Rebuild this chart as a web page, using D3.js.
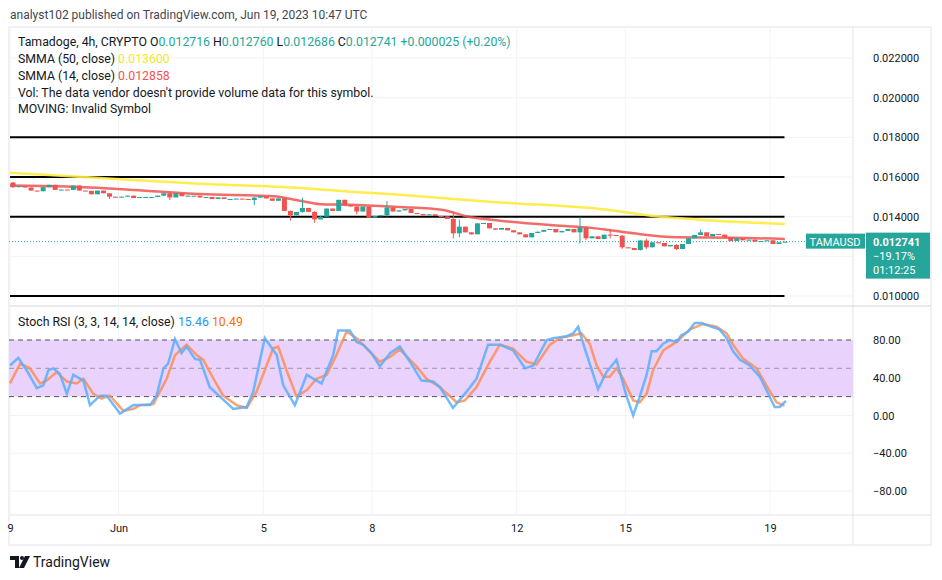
<!DOCTYPE html>
<html><head><meta charset="utf-8">
<script src="https://cdn.jsdelivr.net/npm/d3@7"></script>
<style>
body{margin:0;background:#fff;font-family:"Trebuchet MS",Roboto,"DejaVu Sans",sans-serif;}
text{font-family:Roboto,"DejaVu Sans",sans-serif;}
</style></head><body>
<svg id="c" width="942" height="580"></svg>
<script>
// candle closes, 4h bars from May 29 00:00 (open = previous close)
var closes = [
 0.015487,0.015538,0.01547,0.015316,0.015282,0.015487,0.015607,0.01535,0.015367,0.01535,
 0.015572,0.015316,0.0153,0.015128,0.015316,0.01518,0.015008,0.01497,0.015008,0.01506,
 0.01494,0.01499,0.01499,0.01499,0.01506,0.01518,0.01497,0.01518,0.01503,0.01506,
 0.01506,0.01497,0.01499,0.01489,0.01497,0.01489,0.01489,0.01491,0.01489,0.01484,
 0.01496,0.01503,0.01492,0.0148,0.01492,0.01429,0.01407,0.01424,0.01444,0.01424,
 0.01386,0.014,0.01441,0.01429,0.01485,0.01458,0.01451,0.01426,0.01451,0.01395,
 0.01403,0.01407,0.01446,0.01426,0.01432,0.014386,0.014185,0.014134,0.014067,0.014118,
 0.014034,0.014017,0.013882,0.01316,0.013496,0.01321,0.01311,0.013664,0.013681,0.013412,
 0.013345,0.013429,0.013311,0.01321,0.01311,0.012958,0.013177,0.01324,0.01333,0.01338,
 0.01321,0.01328,0.01338,0.01321,0.013446,0.012908,0.013009,0.012874,0.013093,0.013076,
 0.013042,0.012454,0.01242,0.01232,0.0128,0.012454,0.012706,0.012673,0.012505,0.012572,
 0.01237,0.012622,0.012908,0.013076,0.01321,0.013009,0.013126,0.013093,0.012958,0.012774,
 0.012908,0.012807,0.01284,0.01274,0.012774,0.012807,0.012622,0.012706,0.012741
];
var firstOpen = 0.01572;
// [bar, high, low] for visible wicks
var wicks = [
 [0,0.01575,0.01545],[16,0.01512,0.01489],[26,0.01522,0.01484],[40,0.01498,0.01458],
 [46,0.01431,0.01381],[48,0.01495,0.01420],[50,0.01428,0.01369],[51,0.01405,0.01392],
 [57,0.01455,0.01412],[62,0.01478,0.01400],[73,0.01422,0.01291],[74,0.01385,0.01296],
 [94,0.01397,0.01266],[95,0.01350,0.01282],[99,0.01338,0.01290],[101,0.01306,0.01238],
 [104,0.01282,0.01229],[105,0.01290,0.01236],[110,0.01262,0.01232],[114,0.01335,0.01318]
];
// smoothed moving averages, [day, value]
var smma14 = [[0,0.01557],[1.57,0.01552],[3.41,0.01535],[5.25,0.01514],[7.28,0.01503],[8.01,0.0148],
 [8.57,0.01463],[9.39,0.0146],[10.77,0.01449],[11.97,0.01434],[12.61,0.01402],[13.54,0.0138],
 [14.92,0.01358],[15.93,0.01346],[16.48,0.01334],[17.22,0.01316],[18.42,0.01296],[19.98,0.01294],[21.41,0.01287]];
var smma50 = [[0,0.01622],[2.49,0.01595],[5.25,0.01566],[7.55,0.01549],[9.39,0.01526],[10.77,0.01510],
 [13.54,0.01472],[16.3,0.01439],[17.86,0.01402],[19.06,0.01385],[21.41,0.01363]];
var levels = [0.018, 0.016, 0.014, 0.010];
var priceGrid = [0.010, 0.012, 0.014, 0.016, 0.018, 0.020, 0.022];
var priceLabels = [0.010, 0.014, 0.016, 0.018, 0.020, 0.022]; // 0.012 sits under the price tag
// stoch RSI K and D, [day, value]
var stochK = [[0,53],[.23,61],[.46,48],[.74,29],[.92,32],[1.06,48],[1.2,50],[1.38,44],[1.57,23],[1.75,43],
 [2.03,37],[2.21,11],[2.49,21],[2.67,21],[3.04,2],[3.41,11],[3.87,11],[4.05,21],[4.24,50],[4.37,55],
 [4.56,81],[4.74,66],[4.88,73],[5.11,60],[5.25,59],[5.52,30],[5.8,20],[6.17,7],[6.54,9],[6.72,25],
 [7.04,82],[7.37,64],[7.55,32],[7.87,11],[8.2,43],[8.47,37],[8.61,34],[8.93,64],[9.07,90],[9.39,90],
 [9.58,78],[9.76,75],[9.99,66],[10.22,52],[10.5,66],[10.77,73],[11.05,57],[11.37,37],[11.69,36],[11.88,30],
 [12.24,8],[12.61,25],[12.89,39],[13.21,75],[13.54,75],[13.9,69],[14.23,50],[14.46,53],[14.83,80],[15.01,82],
 [15.38,84],[15.56,87],[15.7,94],[15.88,71],[16.25,28],[16.48,46],[16.76,59],[17.03,21],[17.22,0],[17.4,20],
 [17.59,43],[17.73,68],[17.86,68],[18.05,76],[18.23,80],[18.42,78],[18.55,85],[18.74,89],[18.92,98],[19.11,98],
 [19.24,96],[19.61,91],[19.8,82],[19.98,68],[20.17,59],[20.44,53],[20.72,41],[20.9,27],[21.13,9],[21.27,9],[21.44,15.46]];
var stochD = [[0,34],[.28,55],[.55,50],[.83,34],[1.01,37],[1.29,46],[1.57,36],[1.84,34],[2.03,39],[2.3,23],
 [2.53,18],[2.76,21],[3.13,5],[3.41,7],[3.59,11],[3.96,12],[4.33,39],[4.56,64],[4.88,75],[5.16,64],
 [5.34,59],[5.62,39],[5.89,21],[6.26,11],[6.54,8],[6.81,25],[7.09,53],[7.27,71],[7.41,73],[7.64,48],
 [7.92,20],[8.2,27],[8.47,39],[8.75,43],[9.02,64],[9.3,89],[9.58,82],[9.85,71],[10.22,57],[10.5,62],
 [10.77,70],[11.23,52],[11.51,39],[11.88,30],[12.34,14],[12.57,16],[12.89,30],[13.26,57],[13.54,75],[13.9,71],
 [14.27,57],[14.55,54],[14.92,75],[15.19,82],[15.56,85],[15.79,87],[16.02,76],[16.21,53],[16.39,41],[16.57,41],
 [16.76,50],[16.94,39],[17.22,16],[17.4,14],[17.59,23],[17.77,48],[18.05,69],[18.42,78],[18.78,91],[19.15,97],
 [19.52,94],[19.8,87],[19.98,75],[20.26,60],[20.63,50],[20.9,32],[21.18,14],[21.4,10.49]];
var stochTicks = [-80, -40, 0, 40, 80];
var dateTicks = [[0,'9'],[3,'Jun'],[7,'5'],[10,'8'],[14,'12'],[17,'15'],[21,'19']];

var svg = d3.select('#c');
var left = 9, right = 853, axisR = 931;
var x = d3.scaleLinear().domain([0, 21]).range([10, 770]);
var yP = d3.scaleLinear().domain([0.010, 0.022]).range([296, 58]);
var yS = d3.scaleLinear().domain([-80, 80]).range([491, 340]);
var barDay = 1 / 6;

// header
svg.append('text').attr('x', 10).attr('y', 19).attr('font-size', 12).attr('fill', '#434651')
	.text('analyst102 published on TradingView.com, Jun 19, 2023 10:47 UTC');

// frame
svg.append('rect').attr('x', left).attr('y', 27).attr('width', axisR - left).attr('height', 518)
	.attr('fill', 'none').attr('stroke', '#e0e3eb');
svg.append('line').attr('x1', right).attr('x2', right).attr('y1', 27).attr('y2', 545).attr('stroke', '#e0e3eb');
svg.append('line').attr('x1', left).attr('x2', axisR).attr('y1', 306).attr('y2', 306).attr('stroke', '#d1d4dc');
svg.append('line').attr('x1', left).attr('x2', axisR).attr('y1', 515).attr('y2', 515).attr('stroke', '#e0e3eb');

// grid
var grid = svg.append('g').attr('stroke', '#f0f3fa');
dateTicks.forEach(function(d) {
	grid.append('line').attr('x1', x(d[0])).attr('x2', x(d[0])).attr('y1', 27).attr('y2', 515);
});
priceGrid.forEach(function(d) {
	grid.append('line').attr('x1', left).attr('x2', right).attr('y1', yP(d)).attr('y2', yP(d));
});
stochTicks.forEach(function(d) {
	grid.append('line').attr('x1', left).attr('x2', right).attr('y1', yS(d)).attr('y2', yS(d));
});

// price axis
svg.append('g').attr('transform', 'translate(' + right + ',0)')
	.call(d3.axisRight(yP).tickValues(priceLabels).tickFormat(d3.format('.6f')).tickSize(0).tickPadding(20))
	.call(function(g) { g.select('.domain').remove(); })
	.selectAll('text').attr('font-size', 11).attr('fill', '#131722');
svg.append('g').attr('transform', 'translate(' + right + ',0)')
	.call(d3.axisRight(yS).tickValues(stochTicks).tickFormat(d3.format('.2f')).tickSize(0).tickPadding(20))
	.call(function(g) { g.select('.domain').remove(); })
	.selectAll('text').attr('font-size', 11).attr('fill', '#131722');

// date axis
svg.append('g').attr('transform', 'translate(0,515)')
	.call(d3.axisBottom(x).tickValues(dateTicks.map(function(d) { return d[0]; }))
		.tickFormat(function(v) { return dateTicks.find(function(d) { return d[0] === v; })[1]; })
		.tickSize(0).tickPadding(9))
	.call(function(g) { g.select('.domain').remove(); })
	.selectAll('text').attr('font-size', 11).attr('fill', '#131722');

// horizontal levels
levels.forEach(function(l) {
	svg.append('line').attr('x1', x(0)).attr('x2', x(21.4)).attr('y1', yP(l)).attr('y2', yP(l))
		.attr('stroke', '#000').attr('stroke-width', 2);
});

// moving averages
var line = d3.line().x(function(d) { return x(d[0]); }).y(function(d) { return yP(d[1]); }).curve(d3.curveMonotoneX);
svg.append('path').attr('d', line(smma50)).attr('fill', 'none').attr('stroke', '#ffeb3b').attr('stroke-width', 2.5).attr('stroke-opacity', 0.9);
svg.append('path').attr('d', line(smma14)).attr('fill', 'none').attr('stroke', '#f05350').attr('stroke-width', 2.5).attr('stroke-opacity', 0.85);

// candles
var bars = closes.map(function(c, i) {
	var o = i === 0 ? firstOpen : closes[i - 1];
	var w = wicks.find(function(d) { return d[0] === i; });
	return { i: i, o: o, c: c, h: w ? w[1] : Math.max(o, c), l: w ? w[2] : Math.min(o, c) };
});
var cg = svg.append('g');
bars.forEach(function(b) {
	var col = b.c >= b.o ? '#26a69a' : '#ef5350';
	var cx = x(b.i * barDay) + 3;
	cg.append('line').attr('x1', cx).attr('x2', cx).attr('y1', yP(b.h)).attr('y2', yP(b.l)).attr('stroke', col);
	var top = yP(Math.max(b.o, b.c)), bot = yP(Math.min(b.o, b.c));
	cg.append('rect').attr('x', cx - 2.5).attr('width', 5).attr('y', top).attr('height', Math.max(1, bot - top)).attr('fill', col);
});

// last price
var last = closes[closes.length - 1];
svg.append('line').attr('x1', left).attr('x2', right).attr('y1', yP(last)).attr('y2', yP(last))
	.attr('stroke', '#26a69a').attr('stroke-dasharray', '1,2');
svg.append('rect').attr('x', 806).attr('y', yP(last) - 8).attr('width', 59).attr('height', 15).attr('fill', '#26a69a');
svg.append('text').attr('x', 835).attr('y', yP(last) + 4).attr('text-anchor', 'middle').attr('font-size', 11).attr('fill', '#fff').text('TAMAUSD');
svg.append('rect').attr('x', 866).attr('y', yP(last) - 9).attr('width', 64).attr('height', 46).attr('fill', '#26a69a');
['0.012741', '\u221219.17%', '01:12:25'].forEach(function(t, i) {
	svg.append('text').attr('x', 873).attr('y', yP(last) + 4 + i * 14).attr('font-size', 11).attr('fill', '#fff')
		.attr('font-weight', i === 0 ? 'bold' : 'normal').text(t);
});

// stoch pane
svg.append('rect').attr('x', left).attr('y', yS(80)).attr('width', right - left).attr('height', yS(20) - yS(80)).attr('fill', '#e9d2fc');
[80, 20].forEach(function(v) {
	svg.append('line').attr('x1', left).attr('x2', right).attr('y1', yS(v)).attr('y2', yS(v))
		.attr('stroke', '#555').attr('stroke-dasharray', '5,4');
});
svg.append('line').attr('x1', left).attr('x2', right).attr('y1', yS(50)).attr('y2', yS(50))
	.attr('stroke', '#9e9aa6').attr('stroke-dasharray', '5,4');
var sLine = d3.line().x(function(d) { return x(d[0]); }).y(function(d) { return yS(d[1]); });
svg.append('path').attr('d', sLine(stochD)).attr('fill', 'none').attr('stroke', '#ff8a4c').attr('stroke-width', 2.5).attr('stroke-opacity', 0.8);
svg.append('path').attr('d', sLine(stochK)).attr('fill', 'none').attr('stroke', '#5aaefc').attr('stroke-width', 2.5).attr('stroke-opacity', 0.85);

// legends
var lg = svg.append('g').attr('font-size', 12.3);
function legendLine(y, parts) {
	var t = lg.append('text').attr('x', 18).attr('y', y);
	parts.forEach(function(p) { t.append('tspan').attr('fill', p[1]).text(p[0]); });
}
legendLine(46, [['Tamadoge, 4h, CRYPTO  O', '#131722'], ['0.012716', '#26a69a'], ['  H', '#131722'], ['0.012760', '#26a69a'],
	['  L', '#131722'], ['0.012686', '#26a69a'], ['  C', '#131722'], ['0.012741', '#26a69a'], ['  +0.000025 (+0.20%)', '#26a69a']]);
legendLine(63, [['SMMA (50, close)  ', '#131722'], ['0.013600', '#f5e81f']]);
legendLine(80, [['SMMA (14, close)  ', '#131722'], ['0.012858', '#f05350']]);
legendLine(97, [["Vol: The data vendor doesn't provide volume data for this symbol.", '#131722']]);
legendLine(113, [['MOVING: Invalid Symbol', '#131722']]);
legendLine(326, [['Stoch RSI (3, 3, 14, 14, close)  ', '#131722'], ['15.46', '#2196f3'], ['  ', '#131722'], ['10.49', '#ff6d00']]);

// footer logo
var logo = svg.append('g').attr('transform', 'translate(10,556)');
logo.append('path').attr('d', 'M0 0 H9 V12 H5 V4 H0 Z').attr('fill', '#131722');
logo.append('circle').attr('cx', 12).attr('cy', 2).attr('r', 2).attr('fill', '#131722');
logo.append('path').attr('d', 'M15 0 H20 L14 12 H9 Z').attr('fill', '#131722');
svg.append('text').attr('x', 33).attr('y', 567).attr('font-size', 14).attr('fill', '#131722').text('TradingView');
</script>
</body></html>
